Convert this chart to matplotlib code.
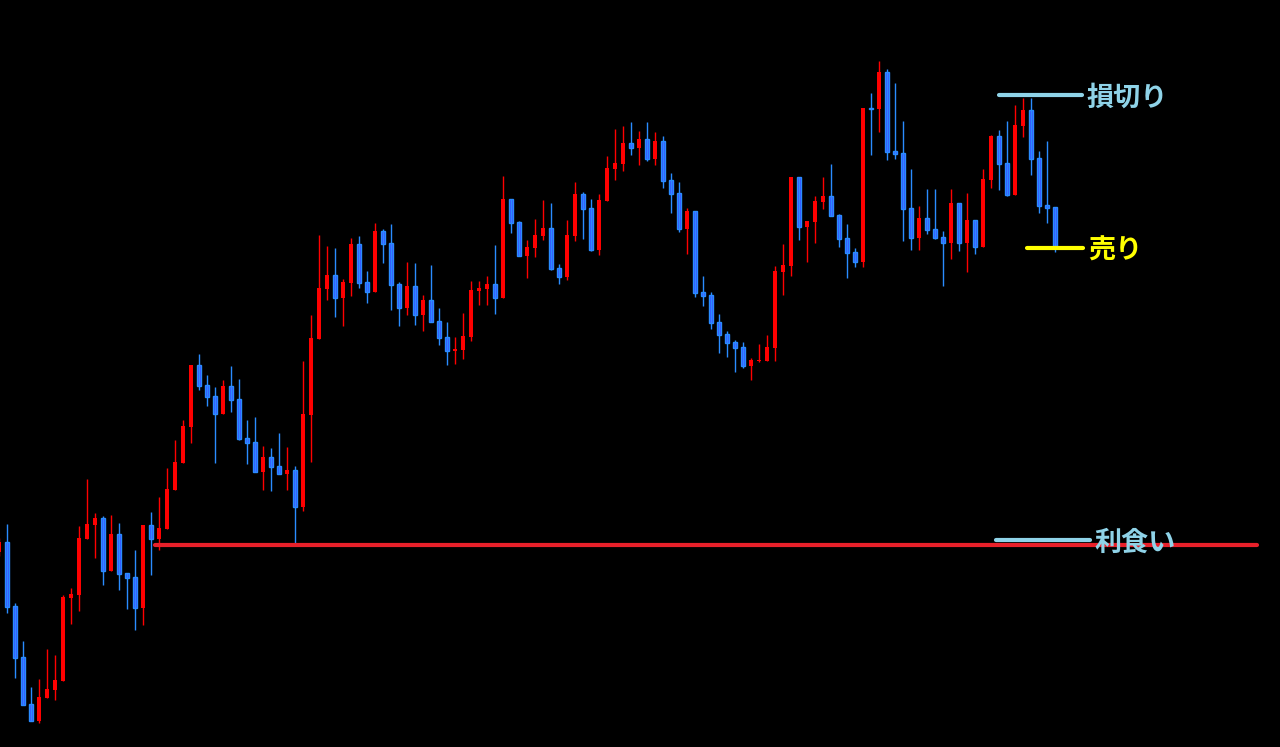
import numpy as np
import matplotlib.pyplot as plt


# OHLC values (arbitrary price units)
opens = [
    198, 208, 144, 93, 46, 29, 52, 60, 69, 152, 155, 211, 225, 232, 179, 216, 177, 173, 142, 225,
    211, 221, 260, 287, 323, 385, 365, 354, 336, 364, 351, 312, 308, 278, 293, 284, 276, 280, 243, 335,
    411, 461, 475, 452, 467, 506, 468, 458, 519, 507, 466, 442, 464, 435, 450, 429, 413, 399, 400, 413,
    459, 461, 466, 452, 551, 528, 494, 502, 514, 522, 482, 473, 514, 556, 542, 500, 549, 581, 586, 607,
    602, 611, 591, 609, 570, 557, 521, 539, 458, 455, 428, 416, 408, 403, 384, 389, 389, 402, 478, 484,
    573, 523, 528, 548, 554, 535, 512, 498, 488, 642, 641, 678, 599, 597, 542, 512, 532, 521, 513, 507,
    547, 507, 530, 503, 570, 614, 587, 555, 624, 640, 592, 545, 543,
]
highs = [
    212, 226, 147, 109, 63, 71, 101, 95, 155, 162, 224, 271, 237, 234, 235, 227, 177, 200, 225, 238,
    253, 282, 310, 330, 385, 396, 375, 363, 370, 384, 371, 330, 333, 304, 302, 317, 303, 284, 389, 435,
    515, 504, 502, 471, 512, 514, 479, 527, 521, 526, 468, 488, 487, 455, 485, 442, 428, 413, 437, 469,
    469, 474, 505, 574, 551, 529, 510, 531, 550, 547, 486, 530, 568, 558, 551, 556, 594, 621, 624, 628,
    619, 628, 618, 614, 577, 568, 542, 539, 474, 458, 436, 419, 410, 408, 392, 406, 415, 484, 506, 573,
    573, 529, 554, 573, 586, 536, 526, 502, 642, 657, 689, 681, 667, 629, 581, 544, 561, 561, 519, 561,
    547, 557, 530, 581, 615, 620, 629, 645, 652, 652, 599, 609, 543,
]
lows = [
    194, 137, 72, 45, 29, 27, 52, 50, 69, 126, 139, 211, 192, 165, 179, 160, 141, 120, 125, 175,
    200, 221, 260, 287, 307, 360, 344, 287, 336, 338, 310, 286, 278, 260, 259, 276, 260, 207, 239, 288,
    411, 450, 433, 424, 454, 462, 447, 458, 487, 440, 424, 435, 425, 419, 428, 405, 385, 386, 391, 409,
    445, 445, 436, 452, 517, 494, 472, 493, 510, 480, 466, 470, 509, 511, 499, 495, 549, 570, 579, 595,
    585, 589, 585, 562, 537, 518, 496, 453, 444, 421, 397, 393, 378, 382, 370, 388, 389, 389, 455, 474,
    510, 488, 507, 541, 534, 503, 472, 483, 483, 595, 618, 590, 591, 509, 500, 500, 516, 511, 464, 491,
    499, 478, 496, 503, 562, 560, 554, 555, 613, 575, 537, 527, 498,
]
closes = [
    208, 143, 92, 45, 29, 53, 61, 70, 153, 156, 212, 226, 232, 179, 216, 176, 172, 142, 225, 211,
    222, 261, 288, 324, 385, 364, 353, 336, 364, 350, 311, 307, 278, 293, 283, 276, 280, 243, 336, 412,
    462, 475, 452, 468, 506, 467, 458, 519, 506, 465, 442, 464, 435, 450, 428, 412, 399, 401, 414, 460,
    462, 466, 452, 551, 527, 494, 503, 515, 522, 481, 473, 515, 556, 541, 500, 550, 582, 587, 607, 602,
    611, 591, 609, 569, 556, 521, 539, 457, 454, 427, 415, 407, 402, 384, 390, 390, 403, 479, 485, 573,
    523, 529, 549, 554, 534, 511, 497, 488, 642, 641, 678, 598, 596, 541, 512, 532, 520, 512, 507, 547,
    507, 530, 503, 571, 614, 586, 555, 625, 640, 591, 544, 542, 504,
]

# trade levels drawn on the right
level_labels = ["損切り", "売り", "利食い"]
level_prices = [655, 502, 210]
level_colors = ["#8fd3e8", "#ffff00", "#8fd3e8"]
support_price = 205

UP_COLOR = "#ff0000"
DOWN_FILL = "#3f48ff"
DOWN_EDGE = "#2a8cff"


def draw_candles(ax):

    o = np.array(opens)
    h = np.array(highs)
    l = np.array(lows)
    c = np.array(closes)
    idx = np.arange(len(o))

    up = c >= o
    down = ~up

    ax.vlines(idx[up], l[up], h[up], colors=UP_COLOR, linewidth=1.0)
    ax.vlines(idx[down], l[down], h[down], colors=DOWN_EDGE, linewidth=1.0)

    bottoms = np.minimum(o, c)
    heights = np.maximum(np.abs(c - o), 1.5)

    ax.bar(idx[up], heights[up], bottom=bottoms[up], width=0.62,
           color=UP_COLOR, linewidth=0)
    ax.bar(idx[down], heights[down], bottom=bottoms[down], width=0.62,
           color=DOWN_FILL, edgecolor=DOWN_EDGE, linewidth=1.0)

    return len(o) - 1


def draw_levels(ax, last):

    ax.plot([19.5, 157.2], [support_price, support_price],
            color="#e8202a", linewidth=3, solid_capstyle="round", zorder=3)

    starts = [last - 7.0, last - 3.5, last - 7.4]
    ends = [last + 3.4, last + 3.5, last + 4.4]
    text_x = [last + 3.9, last + 4.2, last + 4.9]

    for label, price, color, x0, x1, tx in zip(
        level_labels, level_prices, level_colors, starts, ends, text_x
    ):
        ax.plot([x0, x1], [price, price], color=color, linewidth=3,
                solid_capstyle="round", zorder=4)
        ax.text(tx, price - 3, label, color=color, fontsize=19.5, fontweight="bold",
                ha="left", va="center", zorder=5,
                family=["Noto Sans CJK JP", "DejaVu Sans"])


def main():

    fig = plt.figure(figsize=(12.8, 7.47), dpi=100, facecolor="black")
    ax = fig.add_axes([0, 0, 1, 1])
    ax.set_facecolor("black")

    last = draw_candles(ax)
    draw_levels(ax, last)

    ax.set_xlim(0.125, 160.125)
    ax.set_ylim(3, 750)
    ax.axis("off")

    fig.savefig("out.png", dpi=100, facecolor="black")
    plt.close(fig)


if __name__ == "__main__":
    main()
